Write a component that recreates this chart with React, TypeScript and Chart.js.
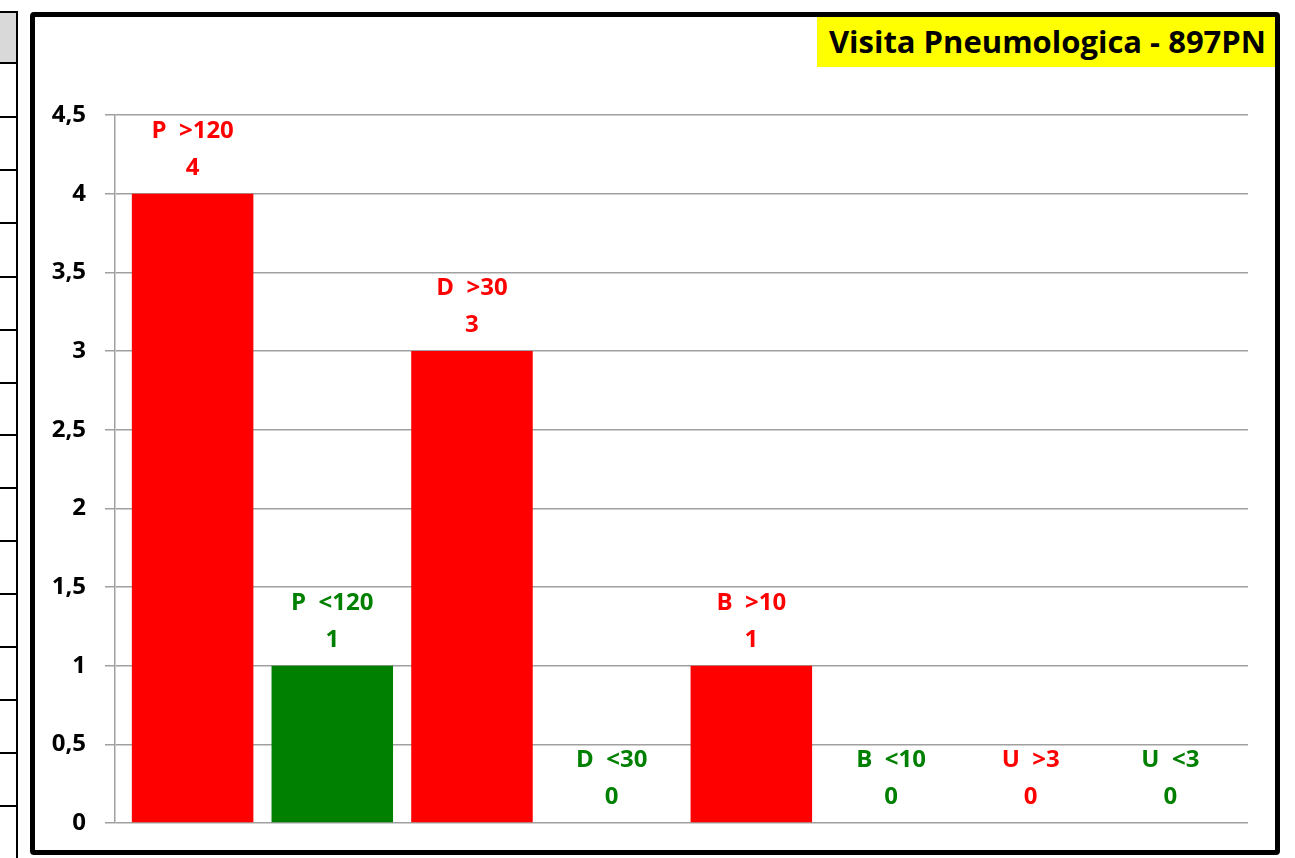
import React, { useEffect, useRef } from "react";
import { Chart, registerables } from "chart.js";

Chart.register(...registerables);

const categories = ["P  >120", "P  <120", "D  >30", "D  <30", "B  >10", "B  <10", "U  >3", "U  <3"];
const values = [4, 1, 3, 0, 1, 0, 0, 0];
const barColors = ["#ff0000", "#008000", "#ff0000", "#008000", "#ff0000", "#008000", "#ff0000", "#008000"];
const yMin = 0;
const yMax = 4.5;
const yStep = 0.5;
const titleText = "Visita Pneumologica - 897PN";
const stripLines = [12, 63, 117, 170, 223, 277, 330, 383, 435, 488, 541, 594, 647, 700, 753, 806];

const FONT = "'Open Sans', 'Noto Sans', sans-serif";

const labelPlugin = {
  id: "barLabels",
  afterDatasetsDraw(chart: any) {
    const ctx = chart.ctx;
    const meta = chart.getDatasetMeta(0);
    ctx.save();
    ctx.font = `bold 24px ${FONT}`;
    ctx.textAlign = "center";
    ctx.textBaseline = "alphabetic";
    meta.data.forEach((el: any, i: number) => {
      const x = el.x;
      const top = el.y;
      ctx.fillStyle = barColors[i];
      ctx.fillText(categories[i], x, top - 56);
      ctx.fillText(String(values[i]), x, top - 19);
    });
    ctx.restore();
  },
};

export default function App() {
  const ref = useRef<HTMLCanvasElement>(null);
  useEffect(() => {
    if (!ref.current) return;
    const chart = new Chart(ref.current, {
      type: "bar",
      data: {
        datasets: [
          {
            data: values.map((v, i) => ({ x: i, y: v })),
            backgroundColor: barColors,
            borderWidth: 0,
            categoryPercentage: 1,
            barPercentage: 0.87,
          },
        ],
      },
      options: {
        animation: false,
        responsive: false,
        maintainAspectRatio: false,
        layout: { padding: { top: 115, bottom: 35, right: 47, left: 0 } },
        plugins: { legend: { display: false }, tooltip: { enabled: false }, title: { display: false } },
        scales: {
          x: {
            type: "linear",
            min: -0.5556,
            max: 7.5556,
            offset: false,
            display: false,
            afterBuildTicks: (scale: any) => {
              scale.ticks = categories.map((_, i) => ({ value: i }));
            },
          },
          y: {
            min: yMin,
            max: yMax,
            afterFit: (scale: any) => {
              scale.width = 115;
            },
            ticks: {
              stepSize: yStep,
              color: "#000",
              padding: 19,
              font: { family: FONT, size: 24, weight: "bold" },
              callback: (v: any) => String(v).replace(".", ","),
            },
            grid: {
              color: "#a0a0a0",
              lineWidth: 1.5,
              tickLength: 10,
              tickColor: "#a0a0a0",
            },
            border: { color: "#a0a0a0", width: 1.5 },
          },
        },
      },
      plugins: [labelPlugin],
    });
    return () => chart.destroy();
  }, []);

  return (
    <div style={{ position: "fixed", left: 0, top: 0, width: 1295, height: 858, background: "#fff", overflow: "hidden" }}>
      <canvas ref={ref} width={1295} height={858} style={{ position: "absolute", left: 0, top: 0 }} />
      <div style={{ position: "absolute", left: 0, top: 12, width: 16, height: 51, background: "#d9d9d9" }} />
      {stripLines.map((y, i) => (
        <div key={i} style={{ position: "absolute", left: 0, top: y - 1, width: 17, height: 2, background: "#000" }} />
      ))}
      <div style={{ position: "absolute", left: 16, top: 11, width: 2, height: 847, background: "#000" }} />
      <div
        style={{
          position: "absolute",
          left: 30,
          top: 12,
          width: 1250,
          height: 843,
          boxSizing: "border-box",
          border: "5px solid #000",
          borderRadius: 4,
          pointerEvents: "none",
        }}
      />
      <div
        style={{
          position: "absolute",
          left: 817,
          top: 17,
          width: 458,
          height: 50,
          background: "#ffff00",
          boxSizing: "border-box",
          paddingRight: 9,
          textAlign: "right",
          fontFamily: FONT,
          fontWeight: "bold",
          fontSize: 31,
          lineHeight: "48px",
          color: "#000",
          whiteSpace: "nowrap",
          overflow: "hidden",
        }}
      >
        {titleText}
      </div>
    </div>
  );
}
